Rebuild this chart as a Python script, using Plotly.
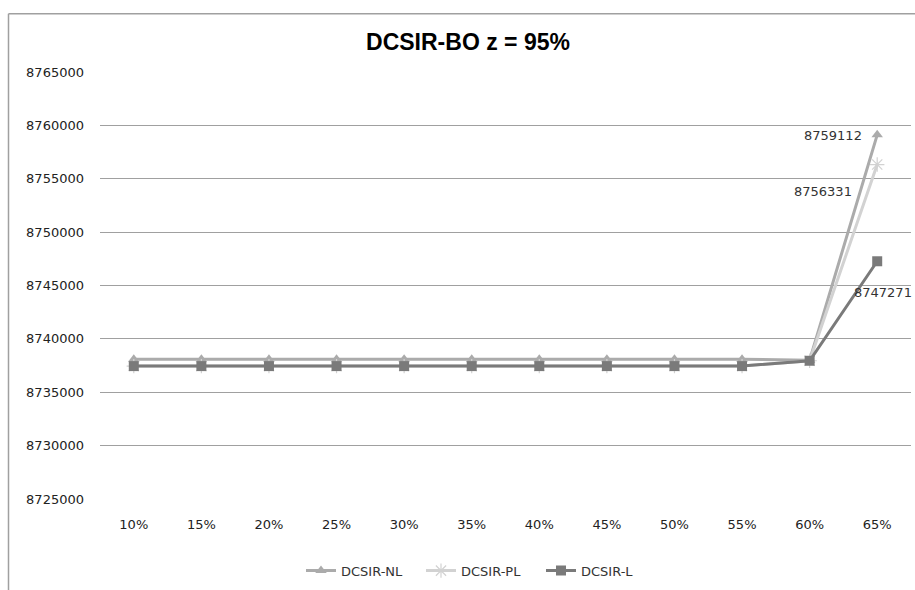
import plotly.graph_objects as go

# Categories (confidence levels) and series values
categories = ["10%", "15%", "20%", "25%", "30%", "35%", "40%", "45%", "50%", "55%", "60%", "65%"]
nl_values = [8738100] * 10 + [8738000, 8759112]
pl_values = [8737450] * 10 + [8737950, 8756331]
l_values = [8737450] * 10 + [8737950, 8747271]
y_ticks = [8725000, 8730000, 8735000, 8740000, 8745000, 8750000, 8755000, 8760000, 8765000]

W, H = 915, 590
L_M, R_M, T_M, B_M = 100, 4, 72, 89
pw = W - L_M - R_M
ph = H - T_M - B_M

fig = go.Figure()

fig.add_trace(go.Scatter(
    x=categories, y=nl_values, name="DCSIR-NL", mode="lines+markers",
    line=dict(color="#ababab", width=3),
    marker=dict(symbol="triangle-up", size=10, color="#ababab"),
))
fig.add_trace(go.Scatter(
    x=categories, y=pl_values, name="DCSIR-PL", mode="lines+markers",
    line=dict(color="#d2d2d2", width=3),
    marker=dict(symbol="asterisk-open", size=12, line=dict(color="#7d7d7d", width=1.2)),
))
fig.add_trace(go.Scatter(
    x=categories, y=l_values, name="DCSIR-L", mode="lines+markers",
    line=dict(color="#7a7a7a", width=3),
    marker=dict(symbol="square", size=10, color="#7a7a7a"),
))

# Value labels at the last category
label_font = dict(family="DejaVu Sans", size=13, color="#333333")
fig.add_annotation(x=categories[-1], y=nl_values[-1], text=str(nl_values[-1]),
                   showarrow=False, xanchor="center", xshift=-44, yshift=-1, font=label_font)
fig.add_annotation(x=categories[-1], y=pl_values[-1], text=str(pl_values[-1]),
                   showarrow=False, xanchor="center", xshift=-54, yshift=-27, font=label_font)
fig.add_annotation(x=categories[-1], y=l_values[-1], text=str(l_values[-1]),
                   showarrow=False, xanchor="right", xshift=37, yshift=-31, font=label_font)

# Outer chart frame (left and top edges)
fx0 = (8.5 - L_M) / pw
fy1 = (H - B_M - 13.5) / ph
fig.add_shape(type="line", xref="paper", yref="paper", x0=fx0, x1=fx0, y0=fy1, y1=-0.3,
              line=dict(color="#a0a0a0", width=1.5))
fig.add_shape(type="line", xref="paper", yref="paper", x0=fx0, x1=1.1, y0=fy1, y1=fy1,
              line=dict(color="#a0a0a0", width=1.5))

fig.update_layout(
    width=W, height=H,
    margin=dict(l=L_M, r=R_M, t=T_M, b=B_M),
    paper_bgcolor="white", plot_bgcolor="white",
    title=dict(text="<b>DCSIR-BO z = 95%</b>", x=468 / W, xref="container", xanchor="center",
               y=1 - 42 / H, yref="container", yanchor="middle",
               font=dict(family="Liberation Sans", size=23, color="#000000")),
    font=dict(family="DejaVu Sans", size=13, color="#222222"),
    showlegend=True,
    legend=dict(orientation="h", x=(301 - L_M) / pw, xanchor="left",
                y=-(573 - (H - B_M)) / ph, yanchor="middle",
                entrywidth=75, entrywidthmode="pixels",
                font=dict(family="DejaVu Sans", size=13, color="#333333"),
                itemwidth=30, tracegroupgap=0, bgcolor="rgba(0,0,0,0)"),
)

fig.update_xaxes(type="category", range=[-0.5, len(categories) - 0.5],
                 showgrid=False, showline=False, zeroline=False,
                 ticks="", ticklabelstandoff=16, tickfont=dict(size=13))
fig.update_yaxes(range=[y_ticks[0], y_ticks[-1]], tickvals=y_ticks,
                 ticktext=[str(v) for v in y_ticks],
                 showgrid=True, gridcolor="#a0a0a0", gridwidth=1,
                 showline=False, zeroline=False, ticks="", ticklabelstandoff=15,
                 tickfont=dict(size=13))

fig.write_html("out.html")
